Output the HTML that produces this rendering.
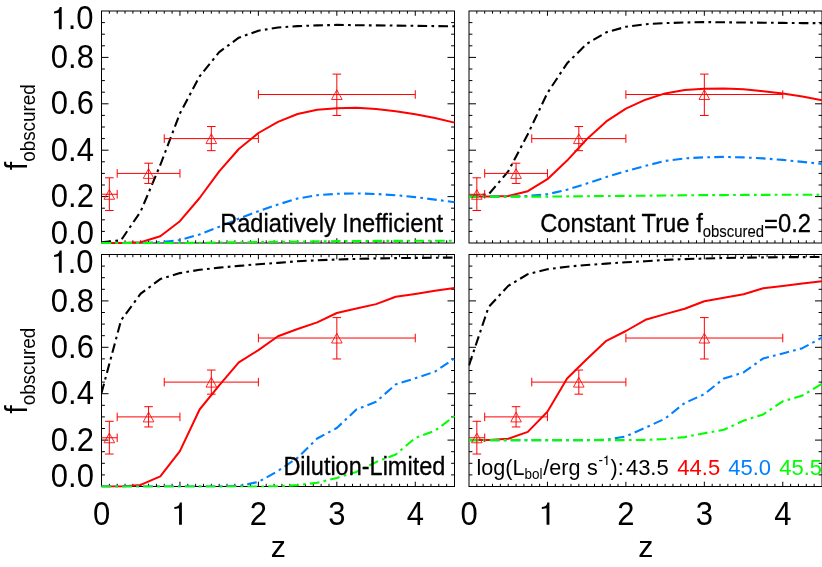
<!DOCTYPE html>
<html><head><meta charset="utf-8"><title>f_obscured vs z</title>
<style>html,body{margin:0;padding:0;background:#fff;overflow:hidden}body{width:822px;height:567px}</style></head>
<body>
<svg width="822" height="567" viewBox="0 0 822 567" style="display:block;will-change:transform;font-family:'Liberation Sans',sans-serif">
<rect width="822" height="567" fill="#fff"/>
<defs>
<clipPath id="c0"><rect x="101.0" y="10.5" width="354.0" height="233.5"/></clipPath>
<clipPath id="c1"><rect x="468.5" y="10.5" width="354.0" height="233.5"/></clipPath>
<clipPath id="c2"><rect x="101.0" y="254.0" width="354.0" height="233.5"/></clipPath>
<clipPath id="c3"><rect x="468.5" y="254.0" width="354.0" height="233.5"/></clipPath>
</defs>
<path d="M109.34,11.0v2.7 M109.34,243.0v-2.7 M117.19,11.0v2.7 M117.19,243.0v-2.7 M125.03,11.0v2.7 M125.03,243.0v-2.7 M132.88,11.0v2.7 M132.88,243.0v-2.7 M140.72,11.0v2.7 M140.72,243.0v-2.7 M148.57,11.0v2.7 M148.57,243.0v-2.7 M156.41,11.0v2.7 M156.41,243.0v-2.7 M164.26,11.0v2.7 M164.26,243.0v-2.7 M172.10,11.0v2.7 M172.10,243.0v-2.7 M179.94,11.0v4.8 M179.94,243.0v-4.8 M187.79,11.0v2.7 M187.79,243.0v-2.7 M195.63,11.0v2.7 M195.63,243.0v-2.7 M203.48,11.0v2.7 M203.48,243.0v-2.7 M211.32,11.0v2.7 M211.32,243.0v-2.7 M219.17,11.0v2.7 M219.17,243.0v-2.7 M227.01,11.0v2.7 M227.01,243.0v-2.7 M234.85,11.0v2.7 M234.85,243.0v-2.7 M242.70,11.0v2.7 M242.70,243.0v-2.7 M250.54,11.0v2.7 M250.54,243.0v-2.7 M258.39,11.0v4.8 M258.39,243.0v-4.8 M266.23,11.0v2.7 M266.23,243.0v-2.7 M274.08,11.0v2.7 M274.08,243.0v-2.7 M281.92,11.0v2.7 M281.92,243.0v-2.7 M289.77,11.0v2.7 M289.77,243.0v-2.7 M297.61,11.0v2.7 M297.61,243.0v-2.7 M305.45,11.0v2.7 M305.45,243.0v-2.7 M313.30,11.0v2.7 M313.30,243.0v-2.7 M321.14,11.0v2.7 M321.14,243.0v-2.7 M328.99,11.0v2.7 M328.99,243.0v-2.7 M336.83,11.0v4.8 M336.83,243.0v-4.8 M344.68,11.0v2.7 M344.68,243.0v-2.7 M352.52,11.0v2.7 M352.52,243.0v-2.7 M360.37,11.0v2.7 M360.37,243.0v-2.7 M368.21,11.0v2.7 M368.21,243.0v-2.7 M376.05,11.0v2.7 M376.05,243.0v-2.7 M383.90,11.0v2.7 M383.90,243.0v-2.7 M391.74,11.0v2.7 M391.74,243.0v-2.7 M399.59,11.0v2.7 M399.59,243.0v-2.7 M407.43,11.0v2.7 M407.43,243.0v-2.7 M415.28,11.0v4.8 M415.28,243.0v-4.8 M423.12,11.0v2.7 M423.12,243.0v-2.7 M430.96,11.0v2.7 M430.96,243.0v-2.7 M438.81,11.0v2.7 M438.81,243.0v-2.7 M446.65,11.0v2.7 M446.65,243.0v-2.7 M101.5,231.40h3.4 M454.5,231.40h-3.4 M101.5,219.80h3.4 M454.5,219.80h-3.4 M101.5,208.20h3.4 M454.5,208.20h-3.4 M101.5,196.60h7.0 M454.5,196.60h-7.0 M101.5,185.00h3.4 M454.5,185.00h-3.4 M101.5,173.40h3.4 M454.5,173.40h-3.4 M101.5,161.80h3.4 M454.5,161.80h-3.4 M101.5,150.20h7.0 M454.5,150.20h-7.0 M101.5,138.60h3.4 M454.5,138.60h-3.4 M101.5,127.00h3.4 M454.5,127.00h-3.4 M101.5,115.40h3.4 M454.5,115.40h-3.4 M101.5,103.80h7.0 M454.5,103.80h-7.0 M101.5,92.20h3.4 M454.5,92.20h-3.4 M101.5,80.60h3.4 M454.5,80.60h-3.4 M101.5,69.00h3.4 M454.5,69.00h-3.4 M101.5,57.40h7.0 M454.5,57.40h-7.0 M101.5,45.80h3.4 M454.5,45.80h-3.4 M101.5,34.20h3.4 M454.5,34.20h-3.4 M101.5,22.60h3.4 M454.5,22.60h-3.4" stroke="#000" stroke-width="1" fill="none"/>
<rect x="101.5" y="11.0" width="353.0" height="232.0" fill="none" stroke="#000" stroke-width="1"/>
<g clip-path="url(#c0)" fill="none" stroke-linejoin="round">
<path d="M101.5,242.3 L121.1,240.2 L140.7,211.4 L160.3,165.0 L179.9,113.5 L199.6,76.4 L219.2,52.1 L238.8,37.7 L258.4,30.7 L278.0,27.5 L297.6,26.1 L317.2,25.4 L336.8,24.9 L356.4,25.2 L376.1,25.4 L395.7,25.6 L415.3,25.8 L434.9,26.1 L454.5,26.3" stroke="#000000" stroke-width="2.1" stroke-dasharray="9.65 4.25 2.7 4.25"/>
<path d="M101.5,243.0 L121.1,243.0 L140.7,242.3 L160.3,236.3 L179.9,221.2 L199.6,198.0 L219.2,171.3 L238.8,149.0 L258.4,133.0 L278.0,121.9 L297.6,114.0 L317.2,109.8 L336.8,108.2 L356.4,107.7 L376.1,108.9 L395.7,111.2 L415.3,114.2 L434.9,118.0 L454.5,122.6" stroke="#ff0000" stroke-width="2.0"/>
<path d="M101.5,243.0 L121.1,243.0 L140.7,243.0 L160.3,242.3 L179.9,240.0 L199.6,234.4 L219.2,226.8 L238.8,218.6 L258.4,211.2 L278.0,204.5 L297.6,198.5 L317.2,195.2 L336.8,193.8 L356.4,193.4 L376.1,194.0 L395.7,195.2 L415.3,197.1 L434.9,199.6 L454.5,202.2" stroke="#0080ff" stroke-width="2.1" stroke-dasharray="9.65 4.25 2.7 4.25"/>
<path d="M101.5,243.0 L121.1,243.0 L140.7,243.0 L160.3,243.0 L179.9,243.0 L199.6,242.8 L219.2,242.5 L238.8,242.3 L258.4,242.1 L278.0,241.8 L297.6,241.6 L317.2,241.4 L336.8,241.1 L356.4,241.1 L376.1,240.9 L395.7,240.9 L415.3,240.7 L434.9,240.7 L454.5,240.7" stroke="#00ff00" stroke-width="2.1" stroke-dasharray="9.65 4.25 2.7 4.25"/>
</g>
<g fill="none" stroke="#ff0000" stroke-width="1">
<path d="M101.5,194.28H117.19 M109.34,210.52V177.81 M117.19,189.98v8.6 M105.04,210.52h8.6 M105.04,177.81h8.6"/>
<path d="M109.34,189.58L114.64,199.28H104.04Z" stroke-width="0.85"/>
<path d="M117.19,173.4H179.94 M148.57,183.45V163.19 M117.19,169.1v8.6 M179.94,169.1v8.6 M144.26999999999998,183.45h8.6 M144.26999999999998,163.19h8.6"/>
<path d="M148.57,168.70L153.87,178.40H143.27Z" stroke-width="0.85"/>
<path d="M164.26,138.6H258.39 M211.32,150.66V126.54 M164.26,134.29999999999998v8.6 M258.39,134.29999999999998v8.6 M207.01999999999998,150.66h8.6 M207.01999999999998,126.54h8.6"/>
<path d="M211.32,133.90L216.62,143.60H206.02Z" stroke-width="0.85"/>
<path d="M258.39,94.52H415.28 M336.83,115.47V74.1 M258.39,90.22v8.6 M415.28,90.22v8.6 M332.53,115.47h8.6 M332.53,74.1h8.6"/>
<path d="M336.83,89.82L342.13,99.52H331.53Z" stroke-width="0.85"/>
</g>
<path d="M476.84,11.0v2.7 M476.84,243.0v-2.7 M484.69,11.0v2.7 M484.69,243.0v-2.7 M492.53,11.0v2.7 M492.53,243.0v-2.7 M500.38,11.0v2.7 M500.38,243.0v-2.7 M508.22,11.0v2.7 M508.22,243.0v-2.7 M516.07,11.0v2.7 M516.07,243.0v-2.7 M523.91,11.0v2.7 M523.91,243.0v-2.7 M531.76,11.0v2.7 M531.76,243.0v-2.7 M539.60,11.0v2.7 M539.60,243.0v-2.7 M547.44,11.0v4.8 M547.44,243.0v-4.8 M555.29,11.0v2.7 M555.29,243.0v-2.7 M563.13,11.0v2.7 M563.13,243.0v-2.7 M570.98,11.0v2.7 M570.98,243.0v-2.7 M578.82,11.0v2.7 M578.82,243.0v-2.7 M586.67,11.0v2.7 M586.67,243.0v-2.7 M594.51,11.0v2.7 M594.51,243.0v-2.7 M602.35,11.0v2.7 M602.35,243.0v-2.7 M610.20,11.0v2.7 M610.20,243.0v-2.7 M618.04,11.0v2.7 M618.04,243.0v-2.7 M625.89,11.0v4.8 M625.89,243.0v-4.8 M633.73,11.0v2.7 M633.73,243.0v-2.7 M641.58,11.0v2.7 M641.58,243.0v-2.7 M649.42,11.0v2.7 M649.42,243.0v-2.7 M657.27,11.0v2.7 M657.27,243.0v-2.7 M665.11,11.0v2.7 M665.11,243.0v-2.7 M672.95,11.0v2.7 M672.95,243.0v-2.7 M680.80,11.0v2.7 M680.80,243.0v-2.7 M688.64,11.0v2.7 M688.64,243.0v-2.7 M696.49,11.0v2.7 M696.49,243.0v-2.7 M704.33,11.0v4.8 M704.33,243.0v-4.8 M712.18,11.0v2.7 M712.18,243.0v-2.7 M720.02,11.0v2.7 M720.02,243.0v-2.7 M727.87,11.0v2.7 M727.87,243.0v-2.7 M735.71,11.0v2.7 M735.71,243.0v-2.7 M743.55,11.0v2.7 M743.55,243.0v-2.7 M751.40,11.0v2.7 M751.40,243.0v-2.7 M759.24,11.0v2.7 M759.24,243.0v-2.7 M767.09,11.0v2.7 M767.09,243.0v-2.7 M774.93,11.0v2.7 M774.93,243.0v-2.7 M782.78,11.0v4.8 M782.78,243.0v-4.8 M790.62,11.0v2.7 M790.62,243.0v-2.7 M798.46,11.0v2.7 M798.46,243.0v-2.7 M806.31,11.0v2.7 M806.31,243.0v-2.7 M814.15,11.0v2.7 M814.15,243.0v-2.7 M469.0,231.40h3.4 M822.0,231.40h-3.4 M469.0,219.80h3.4 M822.0,219.80h-3.4 M469.0,208.20h3.4 M822.0,208.20h-3.4 M469.0,196.60h7.0 M822.0,196.60h-7.0 M469.0,185.00h3.4 M822.0,185.00h-3.4 M469.0,173.40h3.4 M822.0,173.40h-3.4 M469.0,161.80h3.4 M822.0,161.80h-3.4 M469.0,150.20h7.0 M822.0,150.20h-7.0 M469.0,138.60h3.4 M822.0,138.60h-3.4 M469.0,127.00h3.4 M822.0,127.00h-3.4 M469.0,115.40h3.4 M822.0,115.40h-3.4 M469.0,103.80h7.0 M822.0,103.80h-7.0 M469.0,92.20h3.4 M822.0,92.20h-3.4 M469.0,80.60h3.4 M822.0,80.60h-3.4 M469.0,69.00h3.4 M822.0,69.00h-3.4 M469.0,57.40h7.0 M822.0,57.40h-7.0 M469.0,45.80h3.4 M822.0,45.80h-3.4 M469.0,34.20h3.4 M822.0,34.20h-3.4 M469.0,22.60h3.4 M822.0,22.60h-3.4" stroke="#000" stroke-width="1" fill="none"/>
<rect x="469.0" y="11.0" width="353.0" height="232.0" fill="none" stroke="#000" stroke-width="1"/>
<g clip-path="url(#c1)" fill="none" stroke-linejoin="round">
<path d="M469.0,196.0 L488.6,194.4 L508.2,171.4 L527.8,134.2 L547.4,93.0 L567.1,63.3 L586.7,43.9 L606.3,32.3 L625.9,26.8 L645.5,24.2 L665.1,23.1 L684.7,22.5 L704.3,22.1 L723.9,22.3 L743.6,22.5 L763.2,22.7 L782.8,22.9 L802.4,23.1 L822.0,23.2" stroke="#000000" stroke-width="2.1" stroke-dasharray="9.65 4.25 2.7 4.25"/>
<path d="M469.0,196.6 L488.6,196.6 L508.2,196.0 L527.8,191.2 L547.4,179.2 L567.1,160.6 L586.7,139.2 L606.3,121.4 L625.9,108.6 L645.5,99.7 L665.1,93.4 L684.7,90.1 L704.3,88.8 L723.9,88.4 L743.6,89.3 L763.2,91.2 L782.8,93.6 L802.4,96.6 L822.0,100.3" stroke="#ff0000" stroke-width="2.0"/>
<path d="M469.0,196.6 L488.6,196.6 L508.2,196.6 L527.8,196.0 L547.4,194.2 L567.1,189.7 L586.7,183.6 L606.3,177.1 L625.9,171.2 L645.5,165.8 L665.1,161.0 L684.7,158.4 L704.3,157.3 L723.9,156.9 L743.6,157.4 L763.2,158.4 L782.8,159.9 L802.4,161.9 L822.0,163.9" stroke="#0080ff" stroke-width="2.1" stroke-dasharray="9.65 4.25 2.7 4.25"/>
<path d="M469.0,196.6 L488.6,196.6 L508.2,196.6 L527.8,196.6 L547.4,196.6 L567.1,196.4 L586.7,196.2 L606.3,196.0 L625.9,195.9 L645.5,195.7 L665.1,195.5 L684.7,195.3 L704.3,195.1 L723.9,195.1 L743.6,194.9 L763.2,194.9 L782.8,194.7 L802.4,194.7 L822.0,194.7" stroke="#00ff00" stroke-width="2.1" stroke-dasharray="9.65 4.25 2.7 4.25"/>
</g>
<g fill="none" stroke="#ff0000" stroke-width="1">
<path d="M469.0,194.28H484.69 M476.84,210.52V177.81 M484.69,189.98v8.6 M472.53999999999996,210.52h8.6 M472.53999999999996,177.81h8.6"/>
<path d="M476.84,189.58L482.14,199.28H471.54Z" stroke-width="0.85"/>
<path d="M484.69,173.4H547.44 M516.07,183.45V163.19 M484.69,169.1v8.6 M547.44,169.1v8.6 M511.77000000000004,183.45h8.6 M511.77000000000004,163.19h8.6"/>
<path d="M516.07,168.70L521.37,178.40H510.77Z" stroke-width="0.85"/>
<path d="M531.76,138.6H625.89 M578.82,150.66V126.54 M531.76,134.29999999999998v8.6 M625.89,134.29999999999998v8.6 M574.5200000000001,150.66h8.6 M574.5200000000001,126.54h8.6"/>
<path d="M578.82,133.90L584.12,143.60H573.52Z" stroke-width="0.85"/>
<path d="M625.89,94.52H782.78 M704.33,115.47V74.1 M625.89,90.22v8.6 M782.78,90.22v8.6 M700.0300000000001,115.47h8.6 M700.0300000000001,74.1h8.6"/>
<path d="M704.33,89.82L709.63,99.52H699.03Z" stroke-width="0.85"/>
</g>
<path d="M109.34,254.5v2.7 M109.34,486.5v-2.7 M117.19,254.5v2.7 M117.19,486.5v-2.7 M125.03,254.5v2.7 M125.03,486.5v-2.7 M132.88,254.5v2.7 M132.88,486.5v-2.7 M140.72,254.5v2.7 M140.72,486.5v-2.7 M148.57,254.5v2.7 M148.57,486.5v-2.7 M156.41,254.5v2.7 M156.41,486.5v-2.7 M164.26,254.5v2.7 M164.26,486.5v-2.7 M172.10,254.5v2.7 M172.10,486.5v-2.7 M179.94,254.5v4.8 M179.94,486.5v-4.8 M187.79,254.5v2.7 M187.79,486.5v-2.7 M195.63,254.5v2.7 M195.63,486.5v-2.7 M203.48,254.5v2.7 M203.48,486.5v-2.7 M211.32,254.5v2.7 M211.32,486.5v-2.7 M219.17,254.5v2.7 M219.17,486.5v-2.7 M227.01,254.5v2.7 M227.01,486.5v-2.7 M234.85,254.5v2.7 M234.85,486.5v-2.7 M242.70,254.5v2.7 M242.70,486.5v-2.7 M250.54,254.5v2.7 M250.54,486.5v-2.7 M258.39,254.5v4.8 M258.39,486.5v-4.8 M266.23,254.5v2.7 M266.23,486.5v-2.7 M274.08,254.5v2.7 M274.08,486.5v-2.7 M281.92,254.5v2.7 M281.92,486.5v-2.7 M289.77,254.5v2.7 M289.77,486.5v-2.7 M297.61,254.5v2.7 M297.61,486.5v-2.7 M305.45,254.5v2.7 M305.45,486.5v-2.7 M313.30,254.5v2.7 M313.30,486.5v-2.7 M321.14,254.5v2.7 M321.14,486.5v-2.7 M328.99,254.5v2.7 M328.99,486.5v-2.7 M336.83,254.5v4.8 M336.83,486.5v-4.8 M344.68,254.5v2.7 M344.68,486.5v-2.7 M352.52,254.5v2.7 M352.52,486.5v-2.7 M360.37,254.5v2.7 M360.37,486.5v-2.7 M368.21,254.5v2.7 M368.21,486.5v-2.7 M376.05,254.5v2.7 M376.05,486.5v-2.7 M383.90,254.5v2.7 M383.90,486.5v-2.7 M391.74,254.5v2.7 M391.74,486.5v-2.7 M399.59,254.5v2.7 M399.59,486.5v-2.7 M407.43,254.5v2.7 M407.43,486.5v-2.7 M415.28,254.5v4.8 M415.28,486.5v-4.8 M423.12,254.5v2.7 M423.12,486.5v-2.7 M430.96,254.5v2.7 M430.96,486.5v-2.7 M438.81,254.5v2.7 M438.81,486.5v-2.7 M446.65,254.5v2.7 M446.65,486.5v-2.7 M101.5,474.90h3.4 M454.5,474.90h-3.4 M101.5,463.30h3.4 M454.5,463.30h-3.4 M101.5,451.70h3.4 M454.5,451.70h-3.4 M101.5,440.10h7.0 M454.5,440.10h-7.0 M101.5,428.50h3.4 M454.5,428.50h-3.4 M101.5,416.90h3.4 M454.5,416.90h-3.4 M101.5,405.30h3.4 M454.5,405.30h-3.4 M101.5,393.70h7.0 M454.5,393.70h-7.0 M101.5,382.10h3.4 M454.5,382.10h-3.4 M101.5,370.50h3.4 M454.5,370.50h-3.4 M101.5,358.90h3.4 M454.5,358.90h-3.4 M101.5,347.30h7.0 M454.5,347.30h-7.0 M101.5,335.70h3.4 M454.5,335.70h-3.4 M101.5,324.10h3.4 M454.5,324.10h-3.4 M101.5,312.50h3.4 M454.5,312.50h-3.4 M101.5,300.90h7.0 M454.5,300.90h-7.0 M101.5,289.30h3.4 M454.5,289.30h-3.4 M101.5,277.70h3.4 M454.5,277.70h-3.4 M101.5,266.10h3.4 M454.5,266.10h-3.4" stroke="#000" stroke-width="1" fill="none"/>
<rect x="101.5" y="254.5" width="353.0" height="232.0" fill="none" stroke="#000" stroke-width="1"/>
<g clip-path="url(#c2)" fill="none" stroke-linejoin="round">
<path d="M101.5,393.0 L121.1,320.2 L140.7,293.7 L160.3,279.1 L179.9,273.1 L199.6,269.8 L219.2,267.6 L238.8,265.9 L258.4,264.2 L278.0,262.9 L297.6,261.2 L317.2,260.3 L336.8,259.5 L356.4,258.9 L376.1,258.4 L395.7,258.1 L415.3,257.9 L434.9,257.7 L454.5,257.6" stroke="#000000" stroke-width="2.1" stroke-dasharray="9.65 4.25 2.7 4.25"/>
<path d="M101.5,486.5 L121.1,486.5 L140.7,484.9 L160.3,476.3 L179.9,451.1 L199.6,409.5 L219.2,385.3 L238.8,362.4 L258.4,350.1 L278.0,336.2 L297.6,329.0 L317.2,322.4 L336.8,313.0 L356.4,308.6 L376.1,304.1 L395.7,296.7 L415.3,293.9 L434.9,290.7 L454.5,287.9" stroke="#ff0000" stroke-width="2.0"/>
<path d="M101.5,486.5 L121.1,486.5 L140.7,486.5 L160.3,486.5 L179.9,486.5 L199.6,486.5 L219.2,486.5 L238.8,486.0 L258.4,481.9 L278.0,471.0 L297.6,457.7 L317.2,438.5 L336.8,428.0 L356.4,409.5 L376.1,401.8 L395.7,384.4 L415.3,378.2 L434.9,371.7 L454.5,358.4" stroke="#0080ff" stroke-width="2.1" stroke-dasharray="9.65 4.25 2.7 4.25"/>
<path d="M101.5,486.5 L121.1,486.5 L140.7,486.5 L160.3,486.5 L179.9,486.5 L199.6,486.5 L219.2,486.5 L238.8,486.5 L258.4,486.5 L278.0,486.3 L297.6,485.1 L317.2,482.8 L336.8,477.9 L356.4,471.9 L376.1,462.1 L395.7,454.5 L415.3,438.0 L434.9,430.8 L454.5,416.1" stroke="#00ff00" stroke-width="2.1" stroke-dasharray="9.65 4.25 2.7 4.25"/>
</g>
<g fill="none" stroke="#ff0000" stroke-width="1">
<path d="M101.5,437.78H117.19 M109.34,454.02V421.31 M117.19,433.47999999999996v8.6 M105.04,454.02h8.6 M105.04,421.31h8.6"/>
<path d="M109.34,433.08L114.64,442.78H104.04Z" stroke-width="0.85"/>
<path d="M117.19,416.9H179.94 M148.57,426.95V406.69 M117.19,412.59999999999997v8.6 M179.94,412.59999999999997v8.6 M144.26999999999998,426.95h8.6 M144.26999999999998,406.69h8.6"/>
<path d="M148.57,412.20L153.87,421.90H143.27Z" stroke-width="0.85"/>
<path d="M164.26,382.1H258.39 M211.32,394.16V370.04 M164.26,377.8v8.6 M258.39,377.8v8.6 M207.01999999999998,394.16h8.6 M207.01999999999998,370.04h8.6"/>
<path d="M211.32,377.40L216.62,387.10H206.02Z" stroke-width="0.85"/>
<path d="M258.39,338.02H415.28 M336.83,358.97V317.6 M258.39,333.71999999999997v8.6 M415.28,333.71999999999997v8.6 M332.53,358.97h8.6 M332.53,317.6h8.6"/>
<path d="M336.83,333.32L342.13,343.02H331.53Z" stroke-width="0.85"/>
</g>
<path d="M476.84,254.5v2.7 M476.84,486.5v-2.7 M484.69,254.5v2.7 M484.69,486.5v-2.7 M492.53,254.5v2.7 M492.53,486.5v-2.7 M500.38,254.5v2.7 M500.38,486.5v-2.7 M508.22,254.5v2.7 M508.22,486.5v-2.7 M516.07,254.5v2.7 M516.07,486.5v-2.7 M523.91,254.5v2.7 M523.91,486.5v-2.7 M531.76,254.5v2.7 M531.76,486.5v-2.7 M539.60,254.5v2.7 M539.60,486.5v-2.7 M547.44,254.5v4.8 M547.44,486.5v-4.8 M555.29,254.5v2.7 M555.29,486.5v-2.7 M563.13,254.5v2.7 M563.13,486.5v-2.7 M570.98,254.5v2.7 M570.98,486.5v-2.7 M578.82,254.5v2.7 M578.82,486.5v-2.7 M586.67,254.5v2.7 M586.67,486.5v-2.7 M594.51,254.5v2.7 M594.51,486.5v-2.7 M602.35,254.5v2.7 M602.35,486.5v-2.7 M610.20,254.5v2.7 M610.20,486.5v-2.7 M618.04,254.5v2.7 M618.04,486.5v-2.7 M625.89,254.5v4.8 M625.89,486.5v-4.8 M633.73,254.5v2.7 M633.73,486.5v-2.7 M641.58,254.5v2.7 M641.58,486.5v-2.7 M649.42,254.5v2.7 M649.42,486.5v-2.7 M657.27,254.5v2.7 M657.27,486.5v-2.7 M665.11,254.5v2.7 M665.11,486.5v-2.7 M672.95,254.5v2.7 M672.95,486.5v-2.7 M680.80,254.5v2.7 M680.80,486.5v-2.7 M688.64,254.5v2.7 M688.64,486.5v-2.7 M696.49,254.5v2.7 M696.49,486.5v-2.7 M704.33,254.5v4.8 M704.33,486.5v-4.8 M712.18,254.5v2.7 M712.18,486.5v-2.7 M720.02,254.5v2.7 M720.02,486.5v-2.7 M727.87,254.5v2.7 M727.87,486.5v-2.7 M735.71,254.5v2.7 M735.71,486.5v-2.7 M743.55,254.5v2.7 M743.55,486.5v-2.7 M751.40,254.5v2.7 M751.40,486.5v-2.7 M759.24,254.5v2.7 M759.24,486.5v-2.7 M767.09,254.5v2.7 M767.09,486.5v-2.7 M774.93,254.5v2.7 M774.93,486.5v-2.7 M782.78,254.5v4.8 M782.78,486.5v-4.8 M790.62,254.5v2.7 M790.62,486.5v-2.7 M798.46,254.5v2.7 M798.46,486.5v-2.7 M806.31,254.5v2.7 M806.31,486.5v-2.7 M814.15,254.5v2.7 M814.15,486.5v-2.7 M469.0,474.90h3.4 M822.0,474.90h-3.4 M469.0,463.30h3.4 M822.0,463.30h-3.4 M469.0,451.70h3.4 M822.0,451.70h-3.4 M469.0,440.10h7.0 M822.0,440.10h-7.0 M469.0,428.50h3.4 M822.0,428.50h-3.4 M469.0,416.90h3.4 M822.0,416.90h-3.4 M469.0,405.30h3.4 M822.0,405.30h-3.4 M469.0,393.70h7.0 M822.0,393.70h-7.0 M469.0,382.10h3.4 M822.0,382.10h-3.4 M469.0,370.50h3.4 M822.0,370.50h-3.4 M469.0,358.90h3.4 M822.0,358.90h-3.4 M469.0,347.30h7.0 M822.0,347.30h-7.0 M469.0,335.70h3.4 M822.0,335.70h-3.4 M469.0,324.10h3.4 M822.0,324.10h-3.4 M469.0,312.50h3.4 M822.0,312.50h-3.4 M469.0,300.90h7.0 M822.0,300.90h-7.0 M469.0,289.30h3.4 M822.0,289.30h-3.4 M469.0,277.70h3.4 M822.0,277.70h-3.4 M469.0,266.10h3.4 M822.0,266.10h-3.4" stroke="#000" stroke-width="1" fill="none"/>
<rect x="469.0" y="254.5" width="353.0" height="232.0" fill="none" stroke="#000" stroke-width="1"/>
<g clip-path="url(#c3)" fill="none" stroke-linejoin="round">
<path d="M469.0,365.3 L488.6,307.0 L508.2,285.9 L527.8,274.2 L547.4,269.3 L567.1,266.7 L586.7,265.0 L606.3,263.6 L625.9,262.3 L645.5,261.2 L665.1,259.9 L684.7,259.1 L704.3,258.5 L723.9,258.0 L743.6,257.7 L763.2,257.4 L782.8,257.2 L802.4,257.1 L822.0,257.0" stroke="#000000" stroke-width="2.1" stroke-dasharray="9.65 4.25 2.7 4.25"/>
<path d="M469.0,440.1 L488.6,440.1 L508.2,438.8 L527.8,431.9 L547.4,411.8 L567.1,378.5 L586.7,359.2 L606.3,340.8 L625.9,331.0 L645.5,319.8 L665.1,314.1 L684.7,308.8 L704.3,301.3 L723.9,297.7 L743.6,294.2 L763.2,288.3 L782.8,286.1 L802.4,283.5 L822.0,281.2" stroke="#ff0000" stroke-width="2.0"/>
<path d="M469.0,440.1 L488.6,440.1 L508.2,440.1 L527.8,440.1 L547.4,440.1 L567.1,440.1 L586.7,440.1 L606.3,439.7 L625.9,436.4 L645.5,427.7 L665.1,418.6 L684.7,403.0 L704.3,394.2 L723.9,378.5 L743.6,372.4 L763.2,358.4 L782.8,353.4 L802.4,348.2 L822.0,337.6" stroke="#0080ff" stroke-width="2.1" stroke-dasharray="9.65 4.25 2.7 4.25"/>
<path d="M469.0,440.1 L488.6,440.1 L508.2,440.1 L527.8,440.1 L547.4,440.1 L567.1,440.1 L586.7,440.1 L606.3,440.1 L625.9,440.1 L645.5,439.9 L665.1,439.0 L684.7,437.1 L704.3,433.2 L723.9,429.8 L743.6,420.6 L763.2,414.5 L782.8,401.3 L802.4,395.6 L822.0,383.8" stroke="#00ff00" stroke-width="2.1" stroke-dasharray="9.65 4.25 2.7 4.25"/>
</g>
<g fill="none" stroke="#ff0000" stroke-width="1">
<path d="M469.0,437.78H484.69 M476.84,454.02V421.31 M484.69,433.47999999999996v8.6 M472.53999999999996,454.02h8.6 M472.53999999999996,421.31h8.6"/>
<path d="M476.84,433.08L482.14,442.78H471.54Z" stroke-width="0.85"/>
<path d="M484.69,416.9H547.44 M516.07,426.95V406.69 M484.69,412.59999999999997v8.6 M547.44,412.59999999999997v8.6 M511.77000000000004,426.95h8.6 M511.77000000000004,406.69h8.6"/>
<path d="M516.07,412.20L521.37,421.90H510.77Z" stroke-width="0.85"/>
<path d="M531.76,382.1H625.89 M578.82,394.16V370.04 M531.76,377.8v8.6 M625.89,377.8v8.6 M574.5200000000001,394.16h8.6 M574.5200000000001,370.04h8.6"/>
<path d="M578.82,377.40L584.12,387.10H573.52Z" stroke-width="0.85"/>
<path d="M625.89,338.02H782.78 M704.33,358.97V317.6 M625.89,333.71999999999997v8.6 M782.78,333.71999999999997v8.6 M700.0300000000001,358.97h8.6 M700.0300000000001,317.6h8.6"/>
<path d="M704.33,333.32L709.63,343.02H699.03Z" stroke-width="0.85"/>
</g>
<text transform="translate(93.50,29.10) scale(1,1.095)" font-size="31.0px" text-anchor="end" fill="#000">.0</text>
<path d="M61.70,6.90 L61.70,29.30 L58.84,29.30 L58.84,12.68 L54.07,13.53 L54.07,11.42 Q57.98,11.12 59.04,8.81 Q59.44,7.80 59.64,6.90 Z" fill="#000"/>
<text transform="translate(93.90,68.00) scale(1,1.095)" font-size="31.0px" text-anchor="end" fill="#000">0.8</text>
<text transform="translate(93.90,114.40) scale(1,1.095)" font-size="31.0px" text-anchor="end" fill="#000">0.6</text>
<text transform="translate(93.90,160.80) scale(1,1.095)" font-size="31.0px" text-anchor="end" fill="#000">0.4</text>
<text transform="translate(93.90,207.20) scale(1,1.095)" font-size="31.0px" text-anchor="end" fill="#000">0.2</text>
<text transform="translate(93.90,243.70) scale(1,1.095)" font-size="31.0px" text-anchor="end" fill="#000">0.0</text>
<text transform="translate(93.50,272.60) scale(1,1.095)" font-size="31.0px" text-anchor="end" fill="#000">.0</text>
<path d="M61.70,250.40 L61.70,272.80 L58.84,272.80 L58.84,256.18 L54.07,257.03 L54.07,254.92 Q57.98,254.62 59.04,252.31 Q59.44,251.30 59.64,250.40 Z" fill="#000"/>
<text transform="translate(93.90,311.50) scale(1,1.095)" font-size="31.0px" text-anchor="end" fill="#000">0.8</text>
<text transform="translate(93.90,357.90) scale(1,1.095)" font-size="31.0px" text-anchor="end" fill="#000">0.6</text>
<text transform="translate(93.90,404.30) scale(1,1.095)" font-size="31.0px" text-anchor="end" fill="#000">0.4</text>
<text transform="translate(93.90,450.70) scale(1,1.095)" font-size="31.0px" text-anchor="end" fill="#000">0.2</text>
<text transform="translate(93.90,487.20) scale(1,1.095)" font-size="31.0px" text-anchor="end" fill="#000">0.0</text>
<text transform="translate(101.50,525.30) scale(1,1.095)" font-size="31.0px" text-anchor="middle" fill="#000">0</text>
<path d="M181.89,502.50 L181.89,524.70 L179.06,524.70 L179.06,508.22 L174.33,509.07 L174.33,506.98 Q178.21,506.68 179.26,504.39 Q179.65,503.40 179.85,502.50 Z" fill="#000"/>
<text transform="translate(258.39,525.30) scale(1,1.095)" font-size="31.0px" text-anchor="middle" fill="#000">2</text>
<text transform="translate(336.83,525.30) scale(1,1.095)" font-size="31.0px" text-anchor="middle" fill="#000">3</text>
<text transform="translate(415.28,525.30) scale(1,1.095)" font-size="31.0px" text-anchor="middle" fill="#000">4</text>
<text transform="translate(278.40,557.10) scale(1,0.975)" font-size="30.3px" text-anchor="middle" fill="#000">z</text>
<text transform="translate(469.00,525.30) scale(1,1.095)" font-size="31.0px" text-anchor="middle" fill="#000">0</text>
<path d="M549.39,502.50 L549.39,524.70 L546.56,524.70 L546.56,508.22 L541.83,509.07 L541.83,506.98 Q545.71,506.68 546.76,504.39 Q547.15,503.40 547.35,502.50 Z" fill="#000"/>
<text transform="translate(625.89,525.30) scale(1,1.095)" font-size="31.0px" text-anchor="middle" fill="#000">2</text>
<text transform="translate(704.33,525.30) scale(1,1.095)" font-size="31.0px" text-anchor="middle" fill="#000">3</text>
<text transform="translate(782.78,525.30) scale(1,1.095)" font-size="31.0px" text-anchor="middle" fill="#000">4</text>
<text transform="translate(645.90,557.10) scale(1,0.975)" font-size="30.3px" text-anchor="middle" fill="#000">z</text>
<text transform="translate(27.30,170.30) rotate(-90) scale(1,1.05)" font-size="30.4px" text-anchor="start" fill="#000">f<tspan font-size="18.9px" dy="7.5">obscured</tspan></text>
<text transform="translate(27.30,413.80) rotate(-90) scale(1,1.05)" font-size="30.4px" text-anchor="start" fill="#000">f<tspan font-size="18.9px" dy="7.5">obscured</tspan></text>
<text transform="translate(443.10,231.60) scale(1,1.055)" font-size="23.65px" text-anchor="end" fill="#000" stroke="#000" stroke-width="0.3" stroke-linejoin="round">Radiatively Inefficient</text>
<text transform="translate(811.00,231.80) scale(1,1.055)" font-size="23.8px" text-anchor="end" fill="#000" stroke="#000" stroke-width="0.3" stroke-linejoin="round">Constant True f<tspan font-size="14.9px" dy="4.8" stroke-width="0.1">obscured</tspan><tspan dy="-4.8">=0.2</tspan></text>
<text transform="translate(445.30,475.30) scale(1,1.065)" font-size="23.5px" text-anchor="end" fill="#000" stroke="#000" stroke-width="0.3" stroke-linejoin="round">Dilution-Limited</text>
<text transform="translate(476.40,474.60) scale(1,1.035)" font-size="21.6px" text-anchor="start" fill="#000">log(L</text>
<text transform="translate(524.60,479.30) scale(1,1.035)" font-size="13.5px" text-anchor="start" fill="#000">bol</text>
<text transform="translate(543.20,474.60) scale(1,1.035)" font-size="21.6px" text-anchor="start" fill="#000">/erg</text>
<text transform="translate(587.00,474.60) scale(1,1.035)" font-size="21.6px" text-anchor="start" fill="#000">s</text>
<text transform="translate(598.50,465.00) scale(1,1.035)" font-size="13.4px" text-anchor="start" fill="#000">-</text>
<path d="M607.45,455.50 L607.45,465.10 L606.22,465.10 L606.22,457.98 L604.18,458.34 L604.18,457.44 Q605.86,457.31 606.31,456.32 Q606.48,455.89 606.57,455.50 Z" fill="#000"/>
<text transform="translate(610.60,474.60) scale(1,1.035)" font-size="21.6px" text-anchor="start" fill="#000">):</text>
<text transform="translate(625.90,474.60) scale(1,1.03)" font-size="22.0px" text-anchor="start" fill="#000">43.5</text>
<text transform="translate(677.30,474.60) scale(1,1.03)" font-size="22.0px" text-anchor="start" fill="#ff0000">44.5</text>
<text transform="translate(728.20,474.60) scale(1,1.03)" font-size="22.0px" text-anchor="start" fill="#0080ff">45.0</text>
<text transform="translate(779.20,474.60) scale(1,1.03)" font-size="22.0px" text-anchor="start" fill="#00ff00">45.5</text>
</svg>
</body></html>
